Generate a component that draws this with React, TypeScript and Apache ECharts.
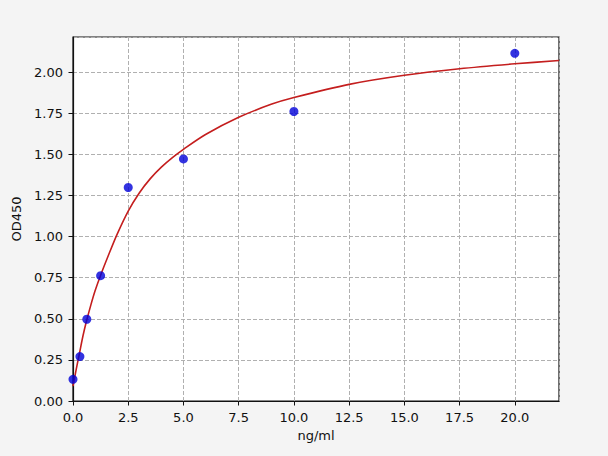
import React, { useEffect, useRef } from "react";
import * as echarts from "echarts";

const pointX = [0, 0.3125, 0.625, 1.25, 2.5, 5, 10, 20];
const pointY = [0.132, 0.27, 0.497, 0.762, 1.298, 1.472, 1.76, 2.114];

const curveX = [0, 0.15, 0.3, 0.45, 0.6, 0.8, 1.0, 1.25, 1.6, 2.0, 2.5, 3.0, 3.5, 4.0, 4.5, 5.0, 6.0, 7.5, 9.0, 10, 12.5, 15, 17.5, 20, 22];
const curveY = [0.09, 0.195, 0.295, 0.395, 0.48, 0.58, 0.67, 0.765, 0.885, 1.015, 1.155, 1.265, 1.352, 1.422, 1.48, 1.53, 1.62, 1.725, 1.805, 1.845, 1.925, 1.98, 2.02, 2.05, 2.07];

const xName = "ng/ml";
const yName = "OD450";

export default function App() {
  const ref = useRef<HTMLDivElement>(null);
  useEffect(() => {
    document.body.style.margin = "0";
    const chart = echarts.init(ref.current!, null, { renderer: "svg" });
    const font = "DejaVu Sans";
    const txt = { fontFamily: font, fontSize: 13, color: "#111" };
    chart.setOption({
      animation: false,
      backgroundColor: "#f4f4f4",
      grid: {
        left: 73,
        right: 49,
        top: 37,
        bottom: 55,
        show: true,
        backgroundColor: "#ffffff",
        borderColor: "#111",
        borderWidth: 1.2,
      },
      xAxis: {
        type: "value",
        min: 0,
        max: 22,
        interval: 2.5,
        name: xName,
        nameLocation: "middle",
        nameGap: 28,
        nameTextStyle: txt,
        axisLine: { show: true, lineStyle: { color: "#111", width: 1.2 } },
        axisTick: { show: true, length: 4.5, lineStyle: { color: "#111" } },
        axisLabel: {
          ...txt,
          margin: 9.5,
          showMaxLabel: false,
          formatter: (v: number) => v.toFixed(1),
        },
        splitLine: { show: true, lineStyle: { color: "#b0b0b0", type: [4, 2], width: 1 } },
      },
      yAxis: {
        type: "value",
        min: 0,
        max: 2.213,
        interval: 0.25,
        name: yName,
        nameLocation: "middle",
        nameGap: 40,
        nameTextStyle: txt,
        axisLine: { show: true, lineStyle: { color: "#111", width: 1.2 } },
        axisTick: { show: true, length: 4.5, lineStyle: { color: "#111" } },
        axisLabel: {
          ...txt,
          margin: 10,
          showMaxLabel: false,
          formatter: (v: number) => v.toFixed(2),
        },
        splitLine: { show: true, lineStyle: { color: "#b0b0b0", type: [4, 2], width: 1 } },
      },
      series: [
        {
          type: "line",
          data: curveX.map((x, i) => [x, curveY[i]]),
          smooth: 0.3,
          showSymbol: false,
          lineStyle: { color: "#c41e1e", width: 1.6 },
          z: 2,
        },
        {
          type: "scatter",
          data: pointX.map((x, i) => [x, pointY[i]]),
          symbolSize: 9,
          itemStyle: { color: "#0000d8" },
          z: 3,
        },
      ],
    });
    return () => chart.dispose();
  }, []);
  return <div ref={ref} style={{ width: 608, height: 456 }} />;
}
